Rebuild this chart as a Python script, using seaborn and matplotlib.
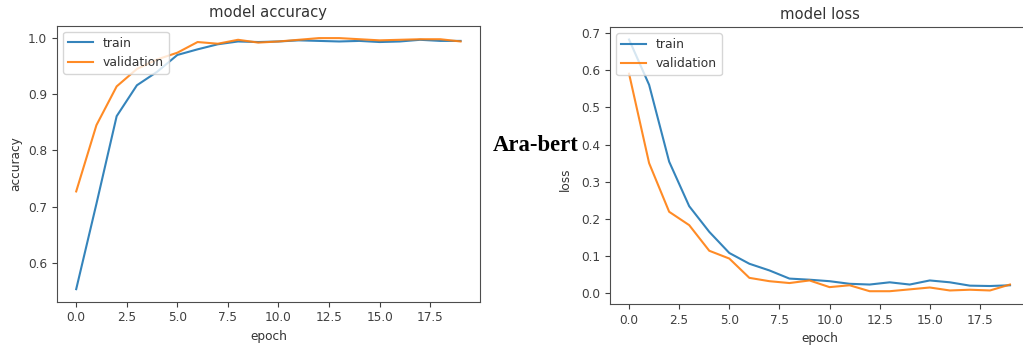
import numpy as np
import pandas as pd
import matplotlib
matplotlib.use("Agg")
import matplotlib.pyplot as plt
import seaborn as sns

epochs = list(range(20))
train_acc = [0.553, 0.705, 0.861, 0.916, 0.940, 0.970, 0.980, 0.989, 0.994, 0.993,
             0.994, 0.996, 0.995, 0.994, 0.995, 0.993, 0.994, 0.997, 0.995, 0.995]
val_acc = [0.727, 0.845, 0.914, 0.945, 0.962, 0.974, 0.993, 0.990, 0.997, 0.992,
           0.994, 0.997, 1.000, 1.000, 0.998, 0.996, 0.997, 0.998, 0.998, 0.994]
train_loss = [0.683, 0.561, 0.354, 0.234, 0.165, 0.108, 0.079, 0.061, 0.039, 0.036,
              0.032, 0.025, 0.023, 0.029, 0.023, 0.034, 0.029, 0.020, 0.019, 0.021]
val_loss = [0.591, 0.350, 0.219, 0.183, 0.114, 0.093, 0.041, 0.032, 0.027, 0.034,
            0.016, 0.021, 0.005, 0.005, 0.010, 0.015, 0.007, 0.009, 0.007, 0.023]
series_labels = ["train", "validation"]
titles = ["model accuracy", "model loss"]
ylabels = ["accuracy", "loss"]
xlabel = "epoch"
side_text = "Ara-bert"

plt.rcParams["font.size"] = 8.7
plt.rcParams["text.color"] = "0.2"
plt.rcParams["axes.labelcolor"] = "0.2"
plt.rcParams["xtick.color"] = "0.25"
plt.rcParams["ytick.color"] = "0.25"

fig = plt.figure(figsize=(10.23, 3.5), dpi=100)
ax1 = fig.add_axes([0.0557, 0.138, 0.4133, 0.789])
ax2 = fig.add_axes([0.5963, 0.132, 0.4096, 0.791])

blue = "#1f77b4"
orange = "#ff7f0e"

for ax, tr, va, title, yl in [(ax1, train_acc, val_acc, titles[0], ylabels[0]),
                               (ax2, train_loss, val_loss, titles[1], ylabels[1])]:
    sns.lineplot(x=epochs, y=tr, ax=ax, color=blue, label=series_labels[0], linewidth=1.5, alpha=0.9)
    sns.lineplot(x=epochs, y=va, ax=ax, color=orange, label=series_labels[1], linewidth=1.5, alpha=0.9)
    ax.set_title(title, fontsize=10.6, color="0.2")
    ax.set_xlabel(xlabel)
    ax.set_ylabel(yl)
    ax.legend(loc="upper left", fontsize=8.9)
    for s in ax.spines.values():
        s.set_color("0.3")
    ax.set_xticks([0, 2.5, 5, 7.5, 10, 12.5, 15, 17.5])
    ax.set_xticklabels(["0.0", "2.5", "5.0", "7.5", "10.0", "12.5", "15.0", "17.5"])

ax1.set_yticks([0.6, 0.7, 0.8, 0.9, 1.0])
ax2.set_yticks([0.0, 0.1, 0.2, 0.3, 0.4, 0.5, 0.6, 0.7])
ax2.yaxis.set_label_coords(-0.09, 0.45)

fig.text(0.482, 0.568, side_text, fontsize=16.3, fontweight="bold",
         family="Liberation Serif", color="black", va="baseline", ha="left")

fig.savefig("out.png", dpi=100)
